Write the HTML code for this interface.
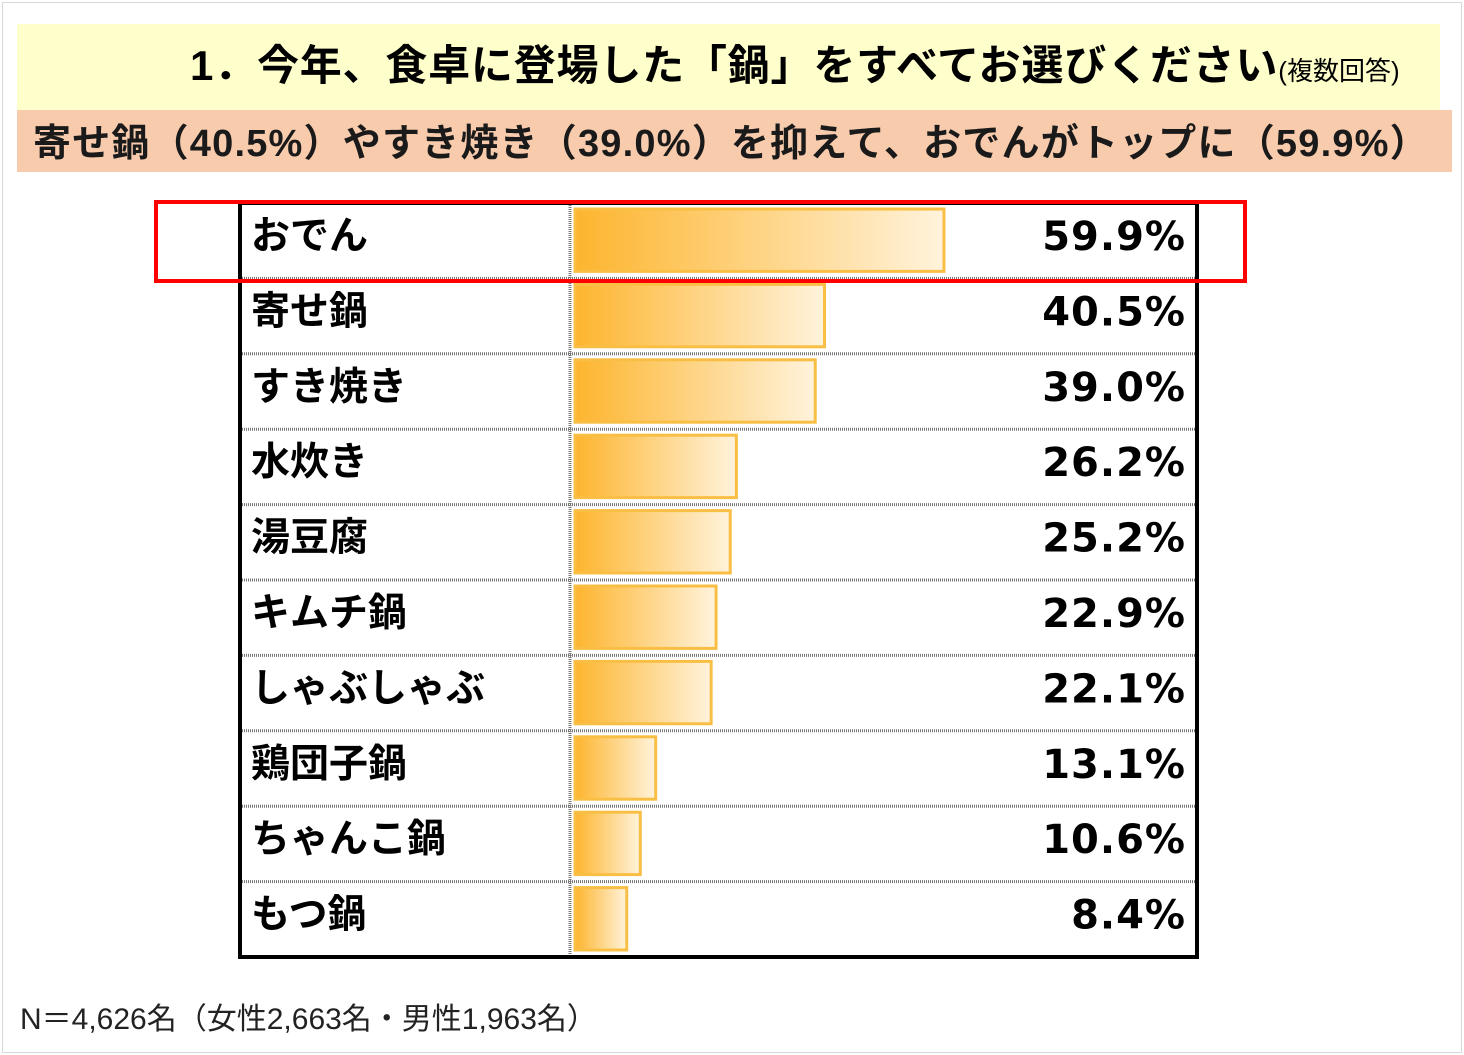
<!DOCTYPE html>
<html><head><meta charset="utf-8"><style>
body{margin:0;width:1464px;height:1055px;background:#fff;position:relative;overflow:hidden;font-family:"Liberation Sans","Noto Sans CJK JP",sans-serif}
.a{position:absolute}
</style></head><body>
<div class="a" style="left:2px;top:2px;width:1458px;height:1049px;border:1px solid #d8d8d8"></div>
<div class="a" style="left:17px;top:24px;width:1423px;height:86px;background:#ffffcc"></div>
<div class="a" style="left:190px;top:32px;font-size:42px;letter-spacing:0.8px;font-weight:bold;white-space:nowrap;color:#000">1．今年、食卓に登場した「鍋」をすべてお選びください<span style="font-size:26px;font-weight:normal;letter-spacing:0">(複数回答)</span></div>
<div class="a" style="left:17px;top:110px;width:1435px;height:62px;background:#f8cbad"></div>
<div class="a" style="left:33px;top:112px;font-size:38px;font-weight:bold;white-space:nowrap;color:#1a1a1a;letter-spacing:1.2px">寄せ鍋（40.5%）やすき焼き（39.0%）を抑えて、おでんがトップに（59.9%）</div>
<svg class="a" id="chart" style="left:0;top:0" width="1464" height="1055">
<defs><linearGradient id="g" x1="0" x2="1" y1="0" y2="0"><stop offset="0" stop-color="#fdb52e"/><stop offset="1" stop-color="#fff3dc"/></linearGradient></defs>
</svg>
<div class="a" style="left:20px;top:994px;font-size:30px;color:#222;white-space:nowrap">N＝4,626名（女性2,663名・男性1,963名）</div>
<script>
const categories=["おでん","寄せ鍋","すき焼き","水炊き","湯豆腐","キムチ鍋","しゃぶしゃぶ","鶏団子鍋","ちゃんこ鍋","もつ鍋"];
const values=[59.9,40.5,39.0,26.2,25.2,22.9,22.1,13.1,10.6,8.4];
const labels=["59.9%","40.5%","39.0%","26.2%","25.2%","22.9%","22.1%","13.1%","10.6%","8.4%"];
const svg=document.getElementById('chart');const NS='http://www.w3.org/2000/svg';
const L=240,R=1197,T=203,B=957,D=570,X0=575,K=6.16;
const rh=(B-T)/categories.length;
const x=v=>X0+v*K, y=i=>T+i*rh;
function mk(t,a){const e=document.createElementNS(NS,t);for(const k in a)e.setAttribute(k,a[k]);svg.appendChild(e);return e;}
categories.forEach((c,i)=>{
 if(i>0){const s=mk('line',{x1:L,x2:R,y1:y(i),y2:y(i),stroke:'#777','stroke-width':3,'stroke-dasharray':'1 1'});
 
 }
 const b=mk('rect',{x:X0,y:y(i)+6,width:x(values[i])-X0,height:rh-13,fill:'url(#g)',stroke:'#f9bf45','stroke-width':3});
 
 
 const t=mk('text',{x:251,y:y(i)+46,'font-size':39,'font-weight':'bold',fill:'#000','font-family':'"Liberation Sans","Noto Sans CJK JP",sans-serif'});t.textContent=c;
 
 
 const v=mk('text',{x:1186,y:y(i)+47,'font-size':40,'font-weight':'bold','text-anchor':'end',fill:'#000','font-family':'"DejaVu Sans",sans-serif','letter-spacing':'1'});v.textContent=labels[i];
 
 
});
const dv=mk('line',{x1:D,x2:D,y1:T,y2:B,stroke:'#777','stroke-width':3,'stroke-dasharray':'1 1'});


const fr=mk('rect',{x:L,y:T,width:R-L,height:B-T,fill:'none',stroke:'#000','stroke-width':4});


const hl=mk('rect',{x:156,y:202,width:1089,height:79,fill:'none',stroke:'#ff0000','stroke-width':4});


</script>
</body></html>
